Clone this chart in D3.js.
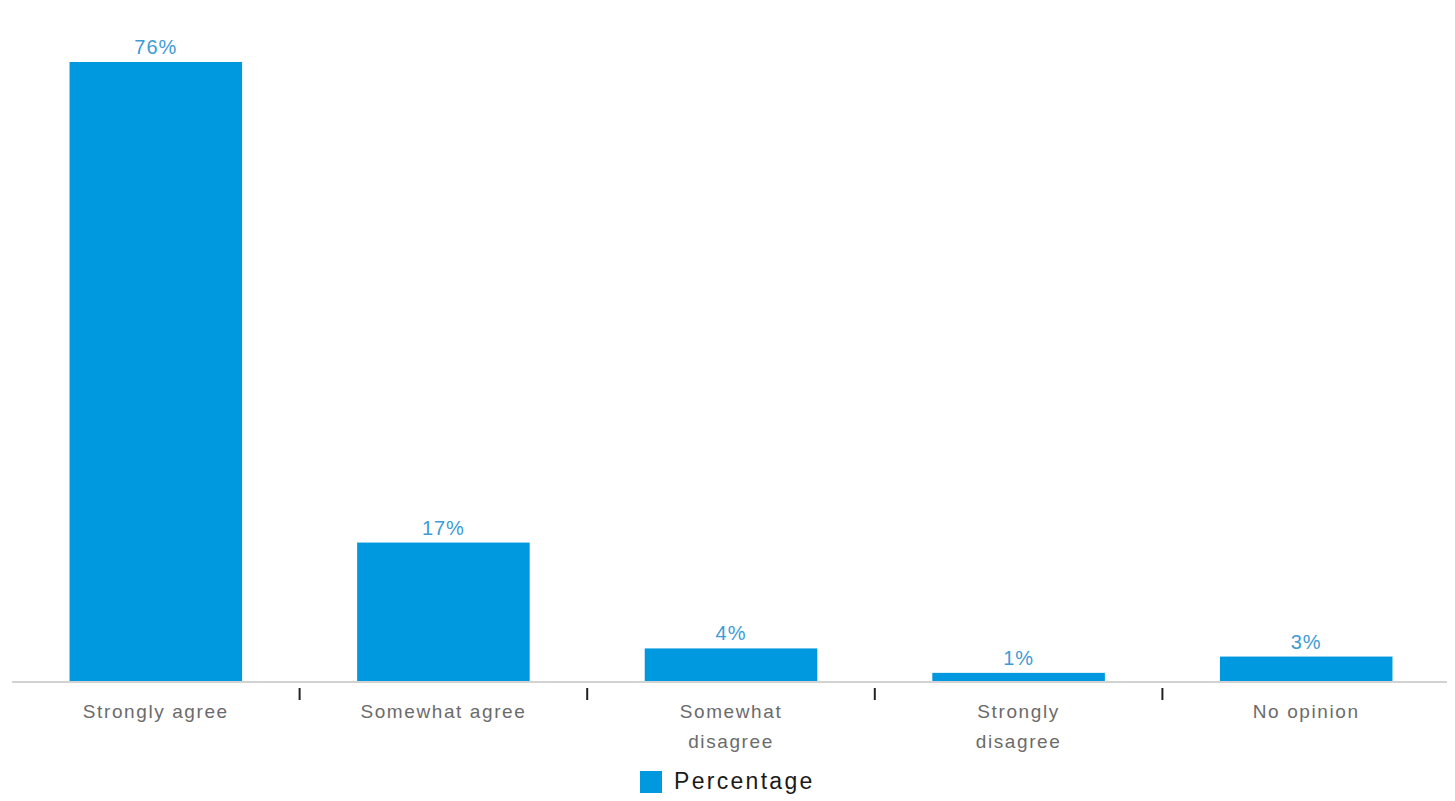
<!DOCTYPE html>
<html>
<head>
<meta charset="utf-8">
<script src="https://cdn.jsdelivr.net/npm/d3@7"></script>
<style>
  html, body { margin: 0; padding: 0; background: #fff; }
  svg { display: block; }
</style>
</head>
<body>
<svg id="chart" width="1455" height="801"></svg>
<script>
const categories = ["Strongly agree", "Somewhat agree", "Somewhat disagree", "Strongly disagree", "No opinion"];
const categoryLines = [["Strongly agree"], ["Somewhat agree"], ["Somewhat", "disagree"], ["Strongly", "disagree"], ["No opinion"]];
const values = [76, 17, 4, 1, 3];
const valueLabels = ["76%", "17%", "4%", "1%", "3%"];
const seriesName = "Percentage";

const W = 1455, H = 801;
const baseY = 681, topY = 62;
const barColor = "#0099e0";
const labelColor = "#3d9bd8";
const font = "'Liberation Sans', Arial, sans-serif";

const svg = d3.select("#chart");

const x = d3.scaleBand()
  .domain(categories)
  .range([12, 1450])
  .paddingInner(0.4)
  .paddingOuter(0.2);

const y = d3.scaleLinear()
  .domain([0, d3.max(values)])
  .range([baseY, topY]);

const data = categories.map((c, i) => ({ c, v: values[i], lab: valueLabels[i], lines: categoryLines[i] }));

// bars
svg.append("g").selectAll("rect")
  .data(data)
  .join("rect")
  .attr("x", d => x(d.c))
  .attr("y", d => y(d.v))
  .attr("width", x.bandwidth())
  .attr("height", d => y(0) - y(d.v))
  .attr("fill", barColor);

// axis line
svg.append("line")
  .attr("x1", 12).attr("x2", 1447)
  .attr("y1", baseY + 1).attr("y2", baseY + 1)
  .attr("stroke", "#d2d2d2").attr("stroke-width", 2);

// ticks between categories
const step = x.step();
const tickXs = categories.slice(1).map(c => x(c) - x.paddingInner() * step / 2);
svg.append("g").selectAll("line")
  .data(tickXs)
  .join("line")
  .attr("x1", d => d).attr("x2", d => d)
  .attr("y1", 688).attr("y2", 700)
  .attr("stroke", "#222").attr("stroke-width", 2);

// value labels
svg.append("g").selectAll("text")
  .data(data)
  .join("text")
  .attr("x", d => x(d.c) + x.bandwidth() / 2)
  .attr("y", d => y(d.v) - 8)
  .attr("text-anchor", "middle")
  .attr("font-family", font)
  .attr("font-size", 20)
  .attr("letter-spacing", 1)
  .attr("fill", labelColor)
  .text(d => d.lab);

// category labels
const cat = svg.append("g").selectAll("text")
  .data(data)
  .join("text")
  .attr("x", d => x(d.c) + x.bandwidth() / 2)
  .attr("y", 718)
  .attr("text-anchor", "middle")
  .attr("font-family", font)
  .attr("font-size", 19)
  .attr("letter-spacing", 1.6)
  .attr("fill", "#6b6b6b");
cat.selectAll("tspan")
  .data(d => d.lines.map(l => ({ l, cx: x(d.c) + x.bandwidth() / 2 })))
  .join("tspan")
  .attr("x", d => d.cx)
  .attr("dy", (d, i) => i === 0 ? 0 : 30)
  .text(d => d.l);

// legend
const leg = svg.append("g");
leg.append("rect")
  .attr("x", 640).attr("y", 771)
  .attr("width", 22).attr("height", 22)
  .attr("fill", barColor);
leg.append("text")
  .attr("x", 674).attr("y", 789)
  .attr("font-family", font)
  .attr("font-size", 23)
  .attr("letter-spacing", 2.3)
  .attr("fill", "#1a1a1a")
  .text(seriesName);
</script>
</body>
</html>
